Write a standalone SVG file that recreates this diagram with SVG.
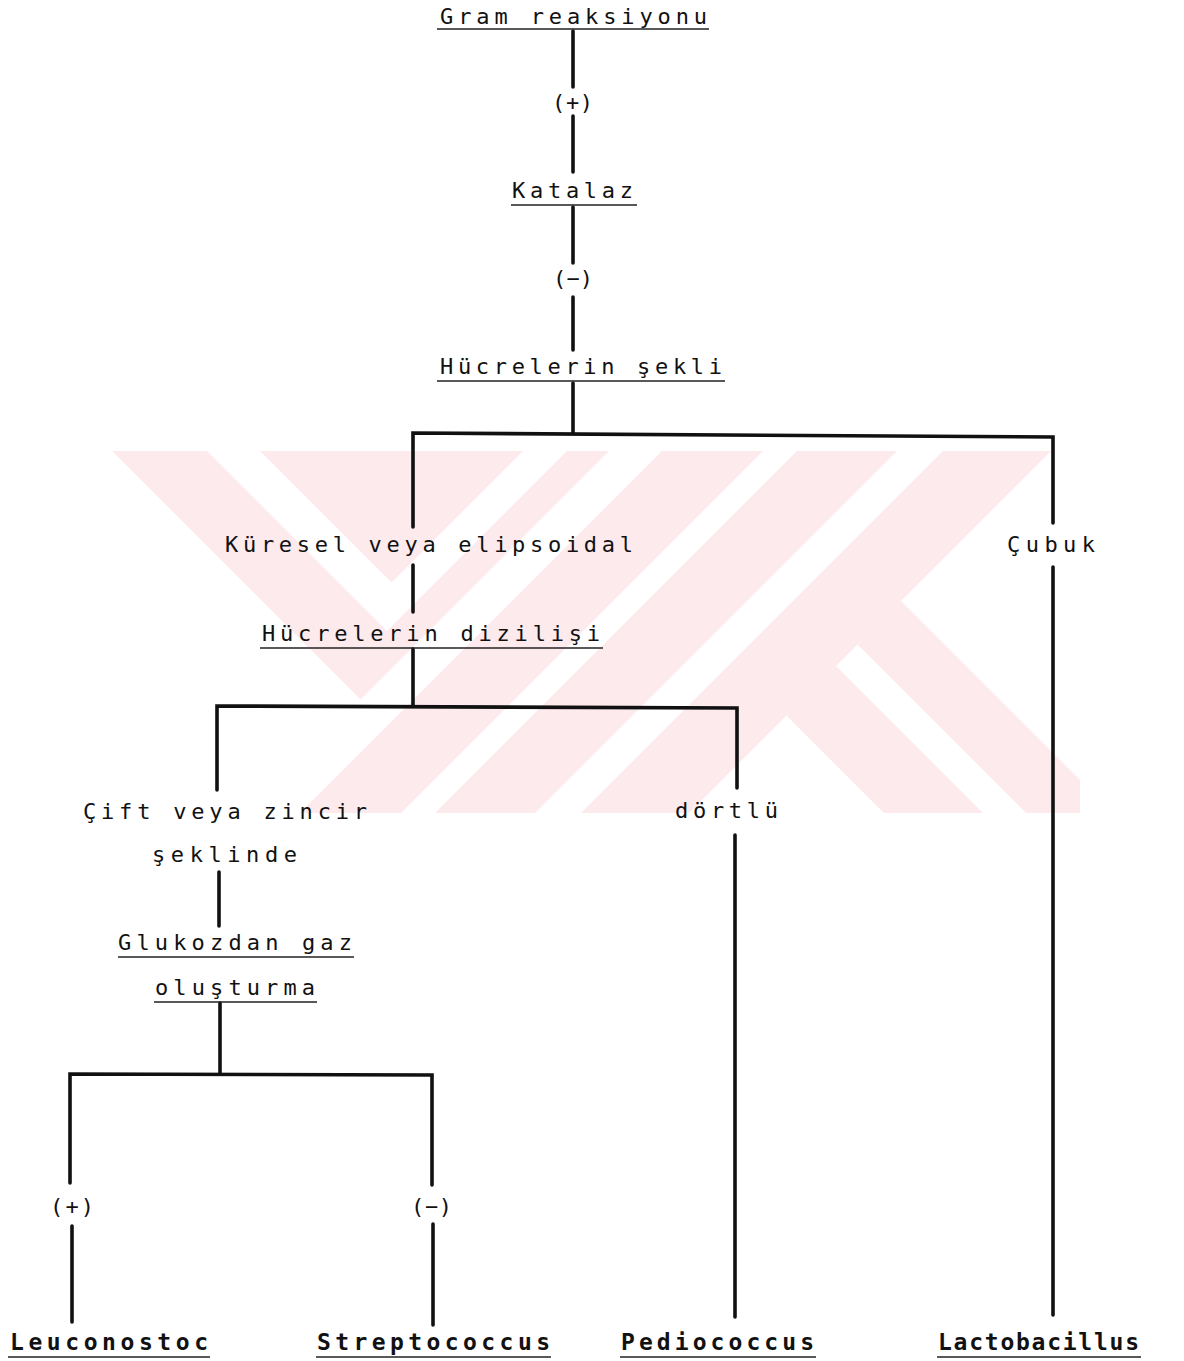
<svg xmlns="http://www.w3.org/2000/svg" width="1184" height="1361" viewBox="0 0 1184 1361">
<style>
.t{font-family:"DejaVu Sans Mono","Liberation Mono",monospace;font-size:22px;fill:#111}
.b{font-family:"DejaVu Sans Mono","Liberation Mono",monospace;font-size:23px;font-weight:bold;fill:#111}
.u{stroke:#222;stroke-width:1.6;fill:none}
.c{stroke:#111;stroke-width:3.6;fill:none;stroke-linecap:round;stroke-linejoin:miter}
.wm{fill:#fdeaed;stroke:none}
</style>
<rect width="1184" height="1361" fill="#fff"/>
<g id="watermark">
<path class="wm" fill-rule="evenodd" d="M112,451 L609,451 L360.5,699.5 Z M207,451 L387,631 L567,451 L523,451 L391.5,582.5 L260,451 Z"/>
<polygon class="wm" points="662,451 763,451 401,813 300,813"/>
<polygon class="wm" points="797,451 897,451 535,813 435,813"/>
<polygon class="wm" points="943,451 1051,451 689,813 581,813"/>
<polygon class="wm" points="901,601 1080,780 1080,813 1026,813 857.5,644.5"/>
<polygon class="wm" points="836,666 983,813 884,813 786.5,715.5"/>
</g>
<g id="connectors">
<line class="c" x1="573" y1="31" x2="573" y2="87"/>
<line class="c" x1="573" y1="116" x2="573" y2="172"/>
<line class="c" x1="573" y1="207" x2="573" y2="263"/>
<line class="c" x1="573" y1="297" x2="573" y2="350"/>
<line class="c" x1="573" y1="383" x2="573" y2="433"/>
<path class="c" d="M413,527 L413,433 L1053,437 L1053,523"/>
<line class="c" x1="1053" y1="567" x2="1053" y2="1315"/>
<line class="c" x1="413" y1="565" x2="413" y2="612"/>
<line class="c" x1="413" y1="649" x2="413" y2="706"/>
<path class="c" d="M217,790 L217,706 L737,708 L737,788"/>
<line class="c" x1="735" y1="835" x2="735" y2="1317"/>
<line class="c" x1="219" y1="872" x2="219" y2="926"/>
<line class="c" x1="220" y1="1003" x2="220" y2="1074"/>
<path class="c" d="M70,1183 L70,1074 L432,1075 L432,1185"/>
<line class="c" x1="72" y1="1226" x2="72" y2="1322"/>
<line class="c" x1="433" y1="1224" x2="433" y2="1325"/>
</g>
<g id="n-gram"><text class="t" x="440" y="24" textLength="267" lengthAdjust="spacing">Gram reaksiyonu</text><line class="u" x1="437" y1="29" x2="709" y2="29"/></g>
<g id="l-plus1"><text class="t" x="552" y="110" textLength="41" lengthAdjust="spacing">(+)</text></g>
<g id="n-katalaz"><text class="t" x="512" y="198" textLength="121" lengthAdjust="spacing">Katalaz</text><line class="u" x1="511" y1="205" x2="637" y2="205"/></g>
<g id="l-minus1"><text class="t" x="553" y="286" textLength="40" lengthAdjust="spacing">(−)</text></g>
<g id="n-sekli"><text class="t" x="440" y="374" textLength="282" lengthAdjust="spacing">Hücrelerin şekli</text><line class="u" x1="437" y1="381" x2="725" y2="381"/></g>
<g id="n-kuresel"><text class="t" x="225" y="552" textLength="408" lengthAdjust="spacing">Küresel veya elipsoidal</text></g>
<g id="n-cubuk"><text class="t" x="1007" y="552" textLength="88" lengthAdjust="spacing">Çubuk</text></g>
<g id="n-dizilisi"><text class="t" x="262" y="641" textLength="338" lengthAdjust="spacing">Hücrelerin dizilişi</text><line class="u" x1="260" y1="648" x2="603" y2="648"/></g>
<g id="n-cift"><text class="t" x="83" y="819" textLength="284" lengthAdjust="spacing">Çift veya zincir</text><text class="t" x="152" y="862" textLength="145" lengthAdjust="spacing">şeklinde</text></g>
<g id="n-dortlu"><text class="t" x="675" y="818" textLength="103" lengthAdjust="spacing">dörtlü</text></g>
<g id="n-glukoz"><text class="t" x="118" y="950" textLength="234" lengthAdjust="spacing">Glukozdan gaz</text><line class="u" x1="118" y1="957" x2="354" y2="957"/><text class="t" x="155" y="995" textLength="160" lengthAdjust="spacing">oluşturma</text><line class="u" x1="154" y1="1002" x2="317" y2="1002"/></g>
<g id="l-plus2"><text class="t" x="50" y="1214" textLength="44" lengthAdjust="spacing">(+)</text></g>
<g id="l-minus2"><text class="t" x="411" y="1214" textLength="41" lengthAdjust="spacing">(−)</text></g>
<g id="n-leuconostoc"><text class="b" x="10" y="1350" textLength="198" lengthAdjust="spacing">Leuconostoc</text><line class="u" x1="8" y1="1357" x2="210" y2="1357"/></g>
<g id="n-streptococcus"><text class="b" x="317" y="1350" textLength="233" lengthAdjust="spacing">Streptococcus</text><line class="u" x1="316" y1="1357" x2="551" y2="1357"/></g>
<g id="n-pediococcus"><text class="b" x="621" y="1350" textLength="193" lengthAdjust="spacing">Pediococcus</text><line class="u" x1="620" y1="1357" x2="816" y2="1357"/></g>
<g id="n-lactobacillus"><text class="b" x="938" y="1350" textLength="201" lengthAdjust="spacing">Lactobacillus</text><line class="u" x1="937" y1="1357" x2="1141" y2="1357"/></g>
</svg>
